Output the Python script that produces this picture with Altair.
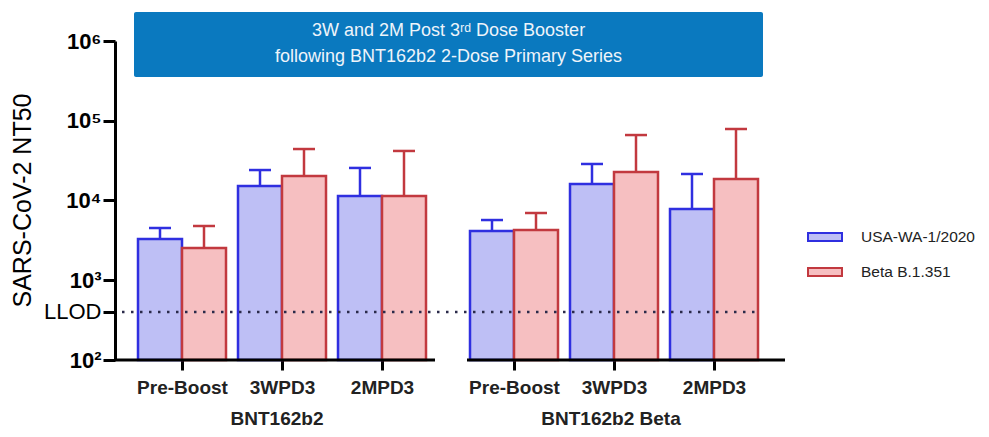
import altair as alt
import pandas as pd

groups = ["BNT162b2", "BNT162b2 Beta"]
timepoints = ["Pre-Boost", "3WPD3", "2MPD3"]
variants = ["USA-WA-1/2020", "Beta B.1.351"]

# geometric mean titers (bar tops) and upper error limits, order: group x timepoint
gmt_wa = [3290, 15200, 11400, 4150, 16100, 7820]
gmt_beta = [2540, 20300, 11400, 4270, 22800, 18600]
upper_wa = [4520, 24100, 25600, 5690, 28700, 21500]
upper_beta = [4790, 44200, 41800, 6970, 66200, 78800]
llod = 400
title_lines = ["3W and 2M Post 3ʳᵈ Dose Booster", "following BNT162b2 2-Dose Primary Series"]

# layout in x units (1 unit = 100 px)
GROUP_SHIFT = 3.32
FIRST = 0.67
BAR_W = 0.44
CAP = 0.11

rows = []
tick_pos = []
for gi, g in enumerate(groups):
    for ti, t in enumerate(timepoints):
        k = gi * 3 + ti
        c = FIRST + ti + gi * GROUP_SHIFT
        tick_pos.append(round(c, 2))
        for vi, v in enumerate(variants):
            val = gmt_wa[k] if vi == 0 else gmt_beta[k]
            up = upper_wa[k] if vi == 0 else upper_beta[k]
            x0 = c - BAR_W if vi == 0 else c
            rows.append(dict(group=g, tp=t, variant=v, value=val, upper=up,
                             x0=x0, x1=x0 + BAR_W, xc=x0 + BAR_W / 2,
                             cl=x0 + BAR_W / 2 - CAP, cr=x0 + BAR_W / 2 + CAP, base=100))
df = pd.DataFrame(rows)

FONT = "Liberation Sans"
xscale = alt.Scale(domain=[0, 6.7], nice=False, zero=False)
yscale = alt.Scale(type="log", domain=[100, 1000000], nice=False)
fill_scale = alt.Scale(domain=variants, range=["#BEBFF5", "#F6BFC1"])
stroke_scale = alt.Scale(domain=variants, range=["#2F2FE0", "#C2393F"])

legend = alt.Legend(title=None, orient="none", legendX=692, legendY=178,
                    symbolType="M-1,-0.23L1,-0.23L1,0.23L-1,0.23Z", symbolSize=1156,
                    symbolStrokeWidth=2, symbolOpacity=1, labelFont=FONT, labelFontSize=15.5,
                    labelColor="#222222", labelOffset=18, rowPadding=8, labelLimit=200)

label_expr = ("datum.value < 3.3 ? ['Pre-Boost','3WPD3','2MPD3'][round(datum.value-%s)] : "
              "['Pre-Boost','3WPD3','2MPD3'][round(datum.value-%s)]") % (FIRST, FIRST + GROUP_SHIFT)

bars = alt.Chart(df).mark_rect(strokeWidth=2.5, clip=False).encode(
    x=alt.X("x0:Q", scale=xscale,
            axis=alt.Axis(values=tick_pos, labelExpr=label_expr, title=None, domain=False,
                          grid=False, tickColor="black", tickWidth=3, tickSize=10,
                          labelFont=FONT, labelFontSize=19, labelFontWeight="bold",
                          labelColor="#222222",
                          labelPadding=8, labelFlush=False, labelOverlap=False)),
    x2="x1:Q",
    y=alt.Y("value:Q", scale=yscale,
            axis=alt.Axis(values=[100, llod, 1000, 10000, 100000, 1000000],
                          labelExpr="datum.value == 400 ? 'LLOD' : '10' + ['²','³','⁴','⁵','⁶'][round(log(datum.value)/LN10)-2]",
                          labelFont=FONT, labelFontSize=22, labelColor="black",
                          labelFontWeight={"condition": {"test": "datum.value == 400", "value": "normal"}, "value": "bold"},
                          labelPadding=2, tickColor="black", tickWidth=3, tickSize=12,
                          domainColor="black", domainWidth=3, grid=False,
                          title="SARS-CoV-2 NT50", titleFont=FONT, titleFontSize=25,
                          titleFontWeight="normal", titleColor="black",
                          titleX=-93, titleY=159, titleAngle=-90,
                          titleAlign="center", titleBaseline="middle")),
    y2="base:Q",
    fill=alt.Fill("variant:N", scale=fill_scale, legend=legend),
    stroke=alt.Stroke("variant:N", scale=stroke_scale, legend=legend),
)

err_v = alt.Chart(df).mark_rule(strokeWidth=2.5).encode(
    x=alt.X("xc:Q", scale=xscale), y=alt.Y("value:Q", scale=yscale), y2="upper:Q",
    stroke=alt.Stroke("variant:N", scale=stroke_scale, legend=legend))
err_cap = alt.Chart(df).mark_rule(strokeWidth=2.5).encode(
    x=alt.X("cl:Q", scale=xscale), x2="cr:Q", y=alt.Y("upper:Q", scale=yscale),
    stroke=alt.Stroke("variant:N", scale=stroke_scale, legend=legend))

llod_df = pd.DataFrame({"x0": [0.07], "x1": [6.45], "y": [llod]})
llod_line = alt.Chart(llod_df).mark_rule(color="#2a2a4a", strokeWidth=2.5, strokeDash=[2.5, 6.5]).encode(
    x=alt.X("x0:Q", scale=xscale), x2="x1:Q", y=alt.Y("y:Q", scale=yscale))

axis_df = pd.DataFrame({"x0": [0, 3.52], "x1": [3.2, 6.7], "y": [100, 100]})
x_axis = alt.Chart(axis_df).mark_rule(color="black", strokeWidth=3).encode(
    x=alt.X("x0:Q", scale=xscale), x2="x1:Q", y=alt.Y("y:Q", scale=yscale))

grp_df = pd.DataFrame({"g": groups, "x": [FIRST + 0.95, FIRST + 0.97 + GROUP_SHIFT]})
grp_text = alt.Chart(grp_df).mark_text(font=FONT, fontSize=19, fontWeight="bold", color="#222222",
                                       baseline="middle").encode(
    x=alt.X("x:Q", scale=xscale), y=alt.value(378), text="g:N")

box_df = pd.DataFrame({"x0": [0.19], "x1": [6.48]})
box = alt.Chart(box_df).mark_rect(color="#0A79BF", clip=False, cornerRadius=2).encode(
    x=alt.X("x0:Q", scale=xscale), x2="x1:Q", y=alt.value(-29), y2=alt.value(36))

ttl_df = pd.DataFrame({"t": title_lines, "x": [3.335, 3.335], "yp": [-10, 16]})
ttl = alt.Chart(ttl_df).mark_text(font=FONT, fontSize=18, color="#EEF4FA", baseline="middle").encode(
    x=alt.X("x:Q", scale=xscale), y=alt.Y("yp:Q", scale=None), text="t:N")

chart = alt.layer(box, ttl, bars, err_v, err_cap, llod_line, x_axis, grp_text).properties(
    width=670, height=319, autosize=alt.AutoSizeParams(type="none"),
    padding={"left": 107, "top": 33, "right": 196, "bottom": 69},
).configure(background="white").configure_view(stroke=None)

chart.save("out.html", embed_options={"renderer": "svg", "actions": False})
